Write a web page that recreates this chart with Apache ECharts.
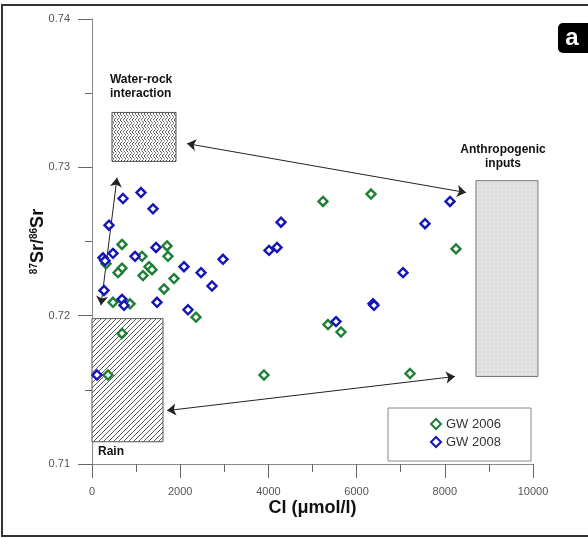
<!DOCTYPE html>
<html><head><meta charset="utf-8">
<script src="https://cdn.jsdelivr.net/npm/echarts@6/dist/echarts.min.js"></script>
<style>html,body{margin:0;padding:0;background:#fff}#c{width:588px;height:538px}</style>
</head><body><div id="c"></div>
<script>
// GW 2006 samples: [Cl (µmol/l), 87Sr/86Sr]
const gw2006 = [
  [363,0.7160],[3900,0.7160],[7211,0.7161],[680,0.7248],[1701,0.7247],[317,0.7235],
  [1134,0.7240],[1723,0.7240],[680,0.7232],[590,0.7229],[1293,0.7233],[1361,0.7231],
  [1156,0.7227],[1859,0.7225],[1633,0.7218],[476,0.7209],[862,0.7208],[2358,0.7199],
  [680,0.7188],[5238,0.7277],[6327,0.7282],[8254,0.7245],[5351,0.7194],[5646,0.7189]
];
// GW 2008 samples
const gw2008 = [
  [113,0.7160],[1111,0.7283],[703,0.7279],[1383,0.7272],[385,0.7261],[249,0.7239],
  [295,0.7237],[476,0.7242],[975,0.7240],[1451,0.7246],[2086,0.7233],[2472,0.7229],
  [272,0.7217],[680,0.7211],[726,0.7207],[1474,0.7209],[2177,0.7204],[2721,0.7220],
  [2971,0.7238],[4014,0.7244],[4195,0.7246],[4286,0.7263],[5533,0.7196],[6372,0.7208],
  [6395,0.7207],[7052,0.7229],[7551,0.7262],[8118,0.7277]
];
// end-member fields
const boxNames = ['Water-rock interaction','Rain','Anthropogenic inputs'];
const boxX = [[453,1905],[0,1610],[8707,10113]];
const boxY = [[0.7304,0.7337],[0.7115,0.7198],[0.7159,0.7291]];
// mixing arrows
const arrows = [
  [[204,0.7207],[567,0.7293]],
  [[2154,0.7316],[8481,0.7283]],
  [[1701,0.7136],[8231,0.7159]]
];
// annotations
const noteText = ['Water-rock\ninteraction','Anthropogenic\ninputs','Rain'];
const noteAt = [[408,0.7345],[9320,0.7298],[136,0.71035]];
const noteAlign = ['left','center','left'];

const FONT = 'Liberation Sans, Arial, Helvetica, sans-serif';
const GREEN = '#1f7f35', BLUE = '#1414b8';

function makePattern(kind){
  const c = document.createElement('canvas');
  const g = c.getContext('2d');
  if(kind==='hatch'){
    c.width=c.height=5;
    g.fillStyle='#fff';g.fillRect(0,0,5,5);
    g.strokeStyle='#444';g.lineWidth=0.9;
    g.beginPath();
    g.moveTo(0,5);g.lineTo(5,0);
    g.moveTo(-1,1);g.lineTo(1,-1);
    g.moveTo(4,6);g.lineTo(6,4);
    g.stroke();
  } else if(kind==='weave'){
    c.width=c.height=6;
    g.fillStyle='#fff';g.fillRect(0,0,6,6);
    g.strokeStyle='#4a4a4a';g.lineWidth=0.9;
    g.beginPath();
    g.moveTo(0,0);g.lineTo(2.5,2.5);
    g.moveTo(3,6);g.lineTo(5.5,3.5);
    g.moveTo(3.5,0.5);g.lineTo(6,3);
    g.moveTo(0,6);g.lineTo(2.5,3.5);
    g.stroke();
  } else {
    c.width=c.height=4;
    g.fillStyle='#dedede';g.fillRect(0,0,4,4);
    g.fillStyle='#f6f6f6';g.fillRect(1,1,1.3,1.3);
  }
  return {image:c, repeat:'repeat'};
}
const patterns = [makePattern('weave'), makePattern('hatch'), makePattern('dots')];
const boxStroke = ['#555','#555','#777'];

const chart = echarts.init(document.getElementById('c'));
const axisColor = '#8a8a8a';
chart.setOption({
  animation:false,
  backgroundColor:'#fff',
  grid:{left:92,right:55,top:19,bottom:74},
  xAxis:{
    type:'value',min:0,max:10000,interval:2000,
    name:'Cl (μmol/l)',nameLocation:'middle',nameGap:35,nameMoveOverlap:false,
    nameTextStyle:{fontFamily:FONT,fontSize:18,fontWeight:'bold',color:'#111'},
    axisLine:{show:true,lineStyle:{color:axisColor,width:1}},
    axisTick:{show:true,length:14,lineStyle:{color:'#666'}},
    minorTick:{show:true,splitNumber:2,length:8,lineStyle:{color:'#666'}},
    splitLine:{show:false},
    axisLabel:{margin:22,fontFamily:FONT,fontSize:11,color:'#555',formatter:v=>String(v)}
  },
  yAxis:{
    type:'value',min:0.71,max:0.74,interval:0.01,
    name:'{s|87}{b|Sr/}{s|86}{b|Sr}',nameLocation:'middle',nameGap:45,nameRotate:90,nameMoveOverlap:false,
    nameTextStyle:{rich:{
      b:{fontFamily:FONT,fontSize:18,fontWeight:'bold',color:'#111',verticalAlign:'bottom'},
      s:{fontFamily:FONT,fontSize:10,fontWeight:'bold',color:'#111',verticalAlign:'top',padding:[0,0,8,0]}
    }},
    axisLine:{show:true,lineStyle:{color:axisColor,width:1}},
    axisTick:{show:true,length:14,lineStyle:{color:'#666'}},
    minorTick:{show:true,splitNumber:2,length:7,lineStyle:{color:'#666'}},
    splitLine:{show:false},
    axisLabel:{margin:22,fontFamily:FONT,fontSize:11,color:'#555',formatter:v=>v.toFixed(2)}
  },
  legend:{
    data:['GW 2006','GW 2008'],orient:'vertical',left:388,top:408,
    padding:[9,5,12,42],itemWidth:10,itemHeight:10,itemGap:4,
    backgroundColor:'#fff',borderColor:'#888',borderWidth:1,borderRadius:0,
    textStyle:{fontFamily:FONT,fontSize:13,color:'#333',width:80,align:'right',lineHeight:14}
  },
  graphic:[
    {type:'rect',shape:{x:2,y:5,width:620,height:531},style:{fill:'none',stroke:'#333',lineWidth:2},silent:true,z:-1},
    {type:'rect',shape:{x:558,y:23,width:34,height:30,r:5},style:{fill:'#000'},z:10},
    {type:'text',style:{text:'a',x:572,y:38,fill:'#fff',font:'bold 24px '+FONT,textAlign:'center',textVerticalAlign:'middle'},z:11}
  ],
  series:[
    {
      type:'custom',name:'fields',clip:false,z:1,silent:true,
      data:boxNames.map((n,i)=>[boxX[i][0],boxX[i][1],boxY[i][0],boxY[i][1]]),
      renderItem:(params,api)=>{
        const i=params.dataIndex;
        const p0=api.coord([api.value(0),api.value(3)]);
        const p1=api.coord([api.value(1),api.value(2)]);
        return {type:'rect',shape:{x:p0[0],y:p0[1],width:p1[0]-p0[0],height:p1[1]-p0[1]},
          style:{fill:patterns[i],stroke:boxStroke[i],lineWidth:1}};
      }
    },
    {
      type:'custom',name:'notes',clip:false,z:2,silent:true,
      data:noteAt,
      renderItem:(params,api)=>{
        const i=params.dataIndex;
        const p=api.coord([api.value(0),api.value(1)]);
        return {type:'text',style:{text:noteText[i],x:p[0],y:p[1],fill:'#111',
          font:'bold 12px '+FONT,textAlign:noteAlign[i],textVerticalAlign:'bottom',lineHeight:14}};
      }
    },
    {
      type:'lines',coordinateSystem:'cartesian2d',z:3,silent:true,
      symbol:['arrow','arrow'],symbolSize:9,
      lineStyle:{color:'#222',width:1,opacity:1},
      data:arrows.map(a=>({coords:a}))
    },
    {
      type:'scatter',name:'GW 2006',symbol:'diamond',symbolSize:9,z:5,
      itemStyle:{color:'#fff',borderColor:GREEN,borderWidth:2.4,opacity:1},
      data:gw2006
    },
    {
      type:'scatter',name:'GW 2008',symbol:'diamond',symbolSize:9,z:5,
      itemStyle:{color:'#fff',borderColor:BLUE,borderWidth:2.4,opacity:1},
      data:gw2008
    }
  ]
});
</script></body></html>
